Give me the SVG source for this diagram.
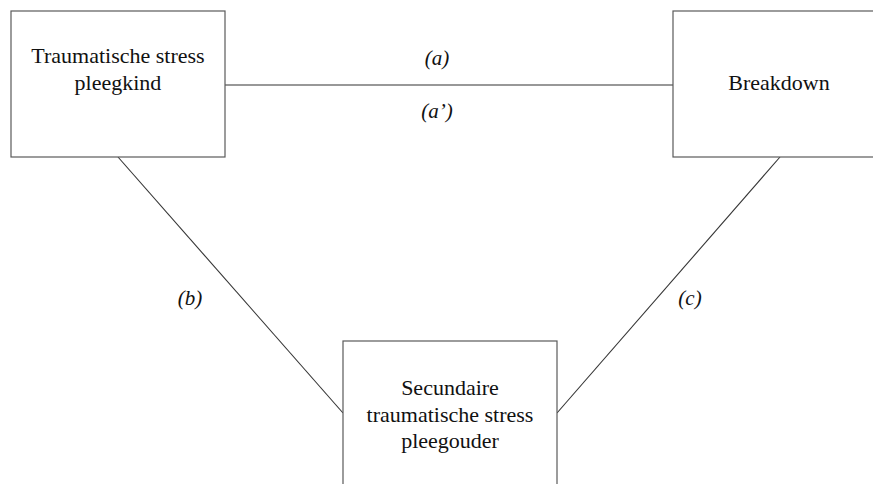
<svg xmlns="http://www.w3.org/2000/svg" width="873" height="484" viewBox="0 0 873 484">
<style>
.box{fill:#fff;stroke:#5a5a5a;stroke-width:1.2}
.t{font-family:'Liberation Serif','Times New Roman',Tinos,Times,'DejaVu Serif',serif;font-size:22px;fill:#111;text-anchor:middle}
.l{font-family:'Liberation Serif','Times New Roman',Tinos,Times,'DejaVu Serif',serif;font-size:21px;font-style:italic;fill:#111;text-anchor:middle}
.c{stroke:#333;stroke-width:1.1;fill:none}
</style>
<rect width="873" height="484" fill="#fff"/>
<g id="connectors">
<line class="c" x1="225" y1="85" x2="673" y2="85"/>
<line class="c" x1="118" y1="157" x2="343" y2="413"/>
<line class="c" x1="780" y1="157" x2="557" y2="413"/>
<text class="l" x="437" y="65">(a)</text>
<text class="l" x="437" y="118">(a’)</text>
<text class="l" x="190" y="305">(b)</text>
<text class="l" x="690" y="305">(c)</text>
</g>
<g id="node-kind">
<rect class="box" x="11" y="11" width="214" height="146"/>
<text class="t" x="118" y="63">Traumatische stress</text>
<text class="t" x="118" y="90">pleegkind</text>
</g>
<g id="node-breakdown">
<rect class="box" x="673" y="11" width="210" height="146"/>
<text class="t" x="779" y="90">Breakdown</text>
</g>
<g id="node-ouder">
<rect class="box" x="343" y="341" width="214" height="160"/>
<text class="t" x="450" y="395">Secundaire</text>
<text class="t" x="450" y="422">traumatische stress</text>
<text class="t" x="450" y="448">pleegouder</text>
</g>
</svg>
